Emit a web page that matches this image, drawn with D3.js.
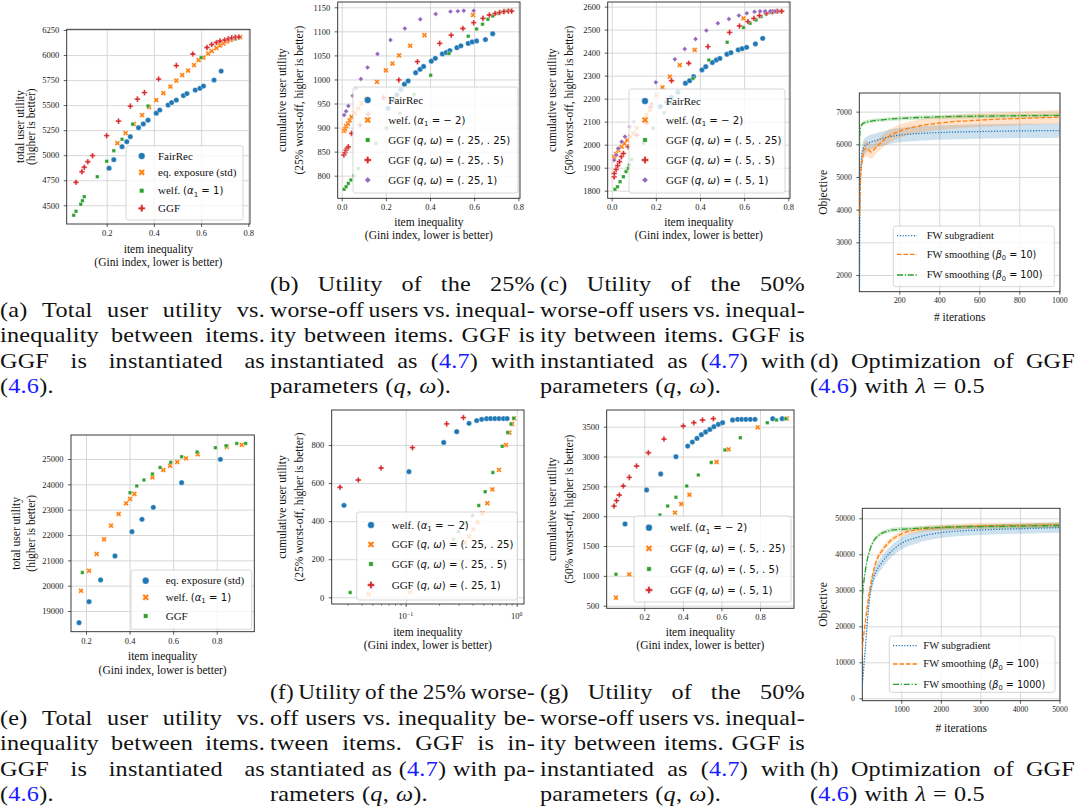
<!DOCTYPE html>
<html>
<head>
<meta charset="utf-8">
<script src="https://cdn.jsdelivr.net/npm/d3@7"></script>
<style>
  body { margin: 0; background: #fff; }
  svg { display: block; }
</style>
</head>
<body>
<svg id="fig" width="1077" height="809"></svg>
<script>
// ---------- data ----------
// (a) total utility vs item inequality
var aFairRec = [[0.21,4870],[0.23,4955],[0.265,5085],[0.285,5135],[0.30,5185],[0.335,5275],[0.355,5312],[0.375,5350],[0.41,5420],[0.425,5450],[0.46,5500],[0.475,5525],[0.495,5550],[0.525,5595],[0.54,5615],[0.575,5650],[0.595,5668],[0.61,5690],[0.655,5750],[0.685,5840]];
var aEqExp = [[0.245,5120],[0.28,5220],[0.315,5310],[0.35,5400],[0.38,5480],[0.41,5550],[0.44,5620],[0.47,5685],[0.495,5745],[0.52,5800],[0.545,5845],[0.57,5900],[0.59,5950],[0.61,5975],[0.63,6015],[0.645,6040],[0.665,6070],[0.68,6095],[0.695,6115],[0.71,6135],[0.725,6150],[0.74,6165],[0.755,6175],[0.765,6178]];
var aWelf = [[0.06,4400],[0.07,4440],[0.09,4510],[0.097,4545],[0.105,4585],[0.16,4785],[0.20,4940],[0.23,5045],[0.265,5160],[0.31,5310],[0.375,5490],[0.60,5975],[0.745,6160]];
var aGGF = [[0.07,4730],[0.095,4835],[0.105,4880],[0.12,4935],[0.14,4995],[0.20,5195],[0.25,5340],[0.30,5490],[0.33,5560],[0.36,5625],[0.42,5760],[0.495,5895],[0.565,6010],[0.625,6075],[0.645,6105],[0.665,6125],[0.68,6140],[0.70,6150],[0.715,6162],[0.73,6172],[0.745,6178],[0.76,6180]];
var aXTicks = [0.2,0.4,0.6,0.8];
var aYTicks = [4500,4750,5000,5250,5500,5750,6000,6250];

// (b) 25% worst-off utility
var bFairRec = [[0.21,940],[0.235,957],[0.25,968],[0.268,979],[0.284,990],[0.301,997],[0.335,1014],[0.355,1021],[0.371,1027],[0.406,1038],[0.424,1044],[0.456,1053],[0.474,1056],[0.49,1060],[0.522,1066],[0.54,1070],[0.573,1075],[0.591,1078],[0.611,1080],[0.651,1083],[0.684,1095]];
var bWelf = [[0.01,893],[0.015,897],[0.02,903],[0.028,908],[0.036,915],[0.045,922],[0.06,930],[0.075,940],[0.09,950],[0.11,962],[0.16,995],[0.20,1019],[0.23,1033],[0.26,1050],[0.31,1070],[0.375,1092],[0.595,1134]];
var bGGF25 = [[0.011,772],[0.02,777],[0.03,784],[0.042,791],[0.055,800],[0.075,815],[0.155,867],[0.203,899],[0.263,930],[0.328,969],[0.403,1009],[0.486,1054],[0.573,1090],[0.611,1105],[0.638,1115],[0.662,1125],[0.684,1132],[0.705,1137],[0.725,1140],[0.745,1142],[0.765,1143]];
var bGGF50 = [[0.01,843],[0.015,848],[0.02,853],[0.025,857],[0.03,860],[0.045,888],[0.083,905],[0.12,928],[0.19,962],[0.259,999],[0.343,1037],[0.444,1075],[0.496,1092],[0.549,1106],[0.598,1118],[0.64,1127],[0.669,1134],[0.695,1137],[0.715,1139],[0.735,1141],[0.755,1142],[0.77,1142]];
var bGGF100 = [[0.011,926],[0.02,934],[0.03,945],[0.05,966],[0.065,981],[0.087,1001],[0.117,1025],[0.162,1053],[0.221,1082],[0.286,1106],[0.356,1125],[0.426,1136],[0.493,1141],[0.526,1142],[0.553,1143],[0.598,1143]];
var bcXTicks = [0,0.2,0.4,0.6,0.8];
var bYTicks = [800,850,900,950,1000,1050,1100,1150];

// (c) 50% worst-off utility
var cFairRec = [[0.22,2165],[0.25,2185],[0.27,2205],[0.30,2228],[0.334,2267],[0.353,2278],[0.371,2296],[0.409,2325],[0.426,2339],[0.456,2357],[0.474,2368],[0.49,2375],[0.522,2393],[0.54,2400],[0.573,2412],[0.591,2417],[0.611,2423],[0.651,2438],[0.684,2462]];
var cWelf = [[0.011,1948],[0.02,1960],[0.03,1977],[0.045,1991],[0.058,2005],[0.07,2020],[0.085,2035],[0.098,2049],[0.113,2071],[0.158,2129],[0.173,2151],[0.203,2216],[0.23,2249],[0.263,2296],[0.308,2346],[0.376,2412],[0.597,2549]];
var cGGF25 = [[0.015,1806],[0.026,1817],[0.038,1839],[0.053,1861],[0.065,1883],[0.075,1897],[0.08,1912],[0.09,1936],[0.143,2006],[0.188,2071],[0.238,2139],[0.268,2180],[0.368,2288],[0.44,2368],[0.523,2445],[0.597,2509],[0.627,2528],[0.654,2542],[0.677,2557],[0.70,2568],[0.72,2574],[0.74,2578],[0.76,2580]];
var cGGF50 = [[0.011,1860],[0.012,1875],[0.02,1893],[0.027,1909],[0.035,1926],[0.044,1948],[0.053,1962],[0.075,1991],[0.113,2042],[0.158,2093],[0.177,2165],[0.271,2278],[0.349,2354],[0.436,2426],[0.534,2488],[0.579,2516],[0.617,2535],[0.644,2549],[0.669,2561],[0.70,2571],[0.729,2578],[0.75,2580],[0.77,2580]];
var cGGF100 = [[0.011,1933],[0.02,1955],[0.03,1984],[0.045,2013],[0.06,2035],[0.083,2078],[0.10,2100],[0.18,2177],[0.20,2271],[0.286,2371],[0.331,2416],[0.38,2459],[0.429,2496],[0.481,2528],[0.531,2546],[0.576,2561],[0.612,2571],[0.647,2578],[0.672,2580],[0.695,2580],[0.718,2580],[0.74,2580]];
var cYTicks = [1800,1900,2000,2100,2200,2300,2400,2500,2600];

// (d) optimization, 1000 iterations
var dIters = [1,3,6,10,15,25,40,60,80,100,150,200,300,400,600,800,1000];
var dSubgrad = [1500,3500,5000,5500,5750,5920,6010,6070,6110,6150,6230,6280,6330,6360,6390,6410,6420];
var dSubgradSd = [0,200,250,250,250,250,240,230,220,220,220,220,220,220,220,220,220];
var dSmooth10 = [3800,4000,4900,5300,5500,5850,5860,5760,5880,6000,6250,6400,6560,6650,6740,6790,6830];
var dSmooth10Sd = [0,200,250,250,250,250,230,200,190,190,200,200,200,210,210,210,210];
var dSmooth100 = [5900,6300,6500,6580,6620,6660,6690,6710,6730,6740,6770,6790,6820,6840,6860,6875,6885];
var dSmooth100Sd = [0,60,60,60,60,60,60,60,60,60,60,60,60,60,60,60,60];
var dXTicks = [200,400,600,800,1000];
var dYTicks = [2000,3000,4000,5000,6000,7000];

// (e) total utility, second dataset
var eEqExp = [[0.168,18540],[0.214,19370],[0.267,20225],[0.333,21170],[0.411,22130],[0.457,22620],[0.509,23090],[0.639,24065],[0.817,24985]];
var eWelf = [[0.177,19800],[0.214,20590],[0.249,21250],[0.283,21830],[0.315,22370],[0.35,22830],[0.384,23250],[0.402,23420],[0.422,23620],[0.505,24275],[0.555,24565],[0.586,24735],[0.619,24880],[0.659,25025],[0.713,25185],[0.846,25485],[0.915,25555]];
var eGGF = [[0.183,20515],[0.402,23670],[0.433,23935],[0.466,24170],[0.505,24410],[0.54,24660],[0.589,24870],[0.639,25090],[0.71,25275],[0.794,25445],[0.843,25525],[0.892,25615],[0.933,25615]];
var egXTicks = [0.2,0.4,0.6,0.8];
var eYTicks = [19000,20000,21000,22000,23000,24000,25000];

// (f) 25% worst-off, log x
var fWelf = [[0.0278,483],[0.107,660],[0.22,813],[0.288,870],[0.372,914],[0.436,928],[0.484,935],[0.536,938],[0.583,939],[0.636,939],[0.693,939],[0.76,939],[0.82,939]];
var fGGF25 = [[0.0464,16],[0.109,28],[0.341,287],[0.372,319],[0.407,357],[0.445,394],[0.49,441],[0.544,494],[0.604,567],[0.693,669],[0.80,800],[0.86,865],[0.91,910],[0.95,940]];
var fGGF50 = [[0.0316,25],[0.27,305],[0.30,345],[0.345,390],[0.40,430],[0.455,482],[0.52,555],[0.61,655],[0.74,793],[0.83,865],[0.89,910],[0.94,940]];
var fGGF100 = [[0.0256,578],[0.0374,616],[0.06,679],[0.115,786],[0.234,911],[0.331,944]];
var fXTicks = [0.1,1];
var fXMinor = [0.03,0.04,0.05,0.06,0.07,0.08,0.09,0.2,0.3,0.4,0.5,0.6,0.7,0.8,0.9];
var fYTicks = [0,200,400,600,800];

// (g) 50% worst-off, second dataset
var gWelf = [[0.10,1869],[0.212,2439],[0.285,2707],[0.364,2997],[0.425,3176],[0.449,3243],[0.473,3304],[0.496,3366],[0.518,3411],[0.54,3455],[0.561,3500],[0.584,3539],[0.606,3567],[0.658,3612],[0.684,3623],[0.705,3623],[0.727,3623],[0.75,3623],[0.774,3623],[0.866,3634],[0.915,3634]];
var gGGF25 = [[0.053,634],[0.122,1025],[0.359,2059],[0.392,2204],[0.434,2360],[0.575,2908],[0.637,3120],[0.788,3489],[0.939,3640]];
var gGGF50 = [[0.053,1025],[0.281,2020],[0.321,2170],[0.364,2316],[0.42,2506],[0.48,2690],[0.547,2902],[0.618,3109],[0.698,3316],[0.838,3567],[0.886,3612],[0.934,3634]];
var gGGF100 = [[0.043,2170],[0.056,2260],[0.07,2355],[0.091,2506],[0.122,2651],[0.16,2841],[0.221,3064],[0.302,3293],[0.402,3511],[0.457,3567],[0.502,3612],[0.558,3634]];
var gYTicks = [500,1000,1500,2000,2500,3000,3500];

// (h) optimization, 5000 iterations
var hIters = [0,25,50,100,150,200,300,400,500,700,1000,1400,2000,3000,4000,5000];
var hSubgrad = [3000,5000,8500,15000,22500,28000,33500,36000,37600,40300,43000,44700,46000,46760,47100,47400];
var hSubgradSd = [0,500,800,1200,1500,1600,1700,1700,1700,1700,1700,1600,1500,1400,1400,1400];
var hSmooth100 = [12000,15000,17500,22000,26300,30000,35500,39000,40800,43500,45600,46800,47400,47900,48050,48200];
var hSmooth100Sd = [0,800,1000,1200,1200,1100,1000,900,900,800,800,800,800,800,800,800];
var hSmooth1000 = [20000,29000,32000,36000,39000,41000,43700,45000,45800,46600,46950,47200,47500,47700,47850,48000];
var hSmooth1000Sd = [0,800,900,900,800,700,600,600,600,600,600,600,600,600,600,600];
var hXTicks = [1000,2000,3000,4000,5000];
var hYTicks = [0,10000,20000,30000,40000,50000];

// colours (matplotlib tab10)
var blue = "#1f77b4", orange = "#ff7f0e", green = "#2ca02c", red = "#d62728", purple = "#9467bd";

// ---------- drawing ----------
var svg = d3.select("#fig");
svg.append("rect").attr("width", 1077).attr("height", 809).attr("fill", "#fff");

var SERIF = "'Liberation Serif', 'Times New Roman', serif";
var SANS = "'DejaVu Sans', sans-serif";
var clipCount = 0;

function markerPath(kind, d) {
  if (kind === "o") return d3.symbol(d3.symbolCircle, Math.PI * d * d / 4)();
  if (kind === "X") return d3.symbol(d3.symbolCross, d * d * 1.15 * 5 / 9)();
  if (kind === "P") return d3.symbol(d3.symbolCross, d * d * 1.1 * 5 / 9)();
  if (kind === "s") return d3.symbol(d3.symbolSquare, (d * 0.66) * (d * 0.66))();
  return d3.symbol(d3.symbolSquare, (d * 0.66) * (d * 0.66))(); // diamond = rotated square
}
function markerRot(kind) { return (kind === "X" || kind === "D") ? " rotate(45)" : ""; }

// mixed serif + mathtext label
function rich(sel, segs, fs) {
  var shifted = false;
  segs.forEach(function(s) {
    var ts = sel.append("tspan").text(s[0]);
    if (s[1] === "r") ts.attr("font-family", SERIF).attr("font-size", fs);
    else ts.attr("font-family", SANS).attr("font-size", fs * 0.92);
    if (s[1] === "i") ts.attr("font-style", "italic");
    if (s[1] === "s") { ts.attr("font-size", fs * 0.64).attr("dy", fs * 0.22); shifted = true; }
    else if (shifted) { ts.attr("dy", -fs * 0.22); shifted = false; }
  });
}

function drawAxes(g, x, y, p) {
  var l = p.box[0], t = p.box[1], r = p.box[2], b = p.box[3];
  // grid
  g.append("g").attr("transform", "translate(0," + b + ")")
    .call(d3.axisBottom(x).tickValues(p.xticks).tickSize(-(b - t)).tickFormat(""))
    .call(function(a) { a.select(".domain").remove(); a.selectAll("line").attr("stroke", "#d4d4d4").attr("stroke-width", 0.9); });
  g.append("g").attr("transform", "translate(" + l + ",0)")
    .call(d3.axisLeft(y).tickValues(p.yticks).tickSize(-(r - l)).tickFormat(""))
    .call(function(a) { a.select(".domain").remove(); a.selectAll("line").attr("stroke", "#d4d4d4").attr("stroke-width", 0.9); });
  // ticks + labels
  var xa = d3.axisBottom(x).tickValues(p.xticks).tickSize(3).tickPadding(3)
    .tickFormat(p.log ? function() { return ""; } : (p.xfmt || d3.format(".1f")));
  g.append("g").attr("transform", "translate(0," + b + ")").call(xa)
    .call(function(a) {
      a.select(".domain").remove();
      a.selectAll("line").attr("stroke", "#333").attr("stroke-width", 0.8);
      a.selectAll("text").attr("font-family", SERIF).attr("font-size", p.tfs).attr("fill", "#222");
    });
  if (p.log) {
    g.append("g").attr("transform", "translate(0," + b + ")")
      .call(d3.axisBottom(x).tickValues(p.minor).tickSize(1.8).tickFormat(""))
      .call(function(a) { a.select(".domain").remove(); a.selectAll("line").attr("stroke", "#333").attr("stroke-width", 0.6); });
    p.xticks.forEach(function(v) {
      var tx = g.append("text").attr("x", x(v)).attr("y", b + 15).attr("text-anchor", "middle")
        .attr("font-family", SERIF).attr("font-size", p.tfs).attr("fill", "#222");
      tx.append("tspan").text("10");
      tx.append("tspan").attr("dy", -3.5).attr("font-size", p.tfs * 0.7).text(Math.round(Math.log10(v)) === 0 ? "0" : "\u22121");
    });
  }
  var ya = d3.axisLeft(y).tickValues(p.yticks).tickSize(3).tickPadding(4.5).tickFormat(d3.format("d"));
  g.append("g").attr("transform", "translate(" + l + ",0)").call(ya)
    .call(function(a) {
      a.select(".domain").remove();
      a.selectAll("line").attr("stroke", "#333").attr("stroke-width", 0.8);
      a.selectAll("text").attr("font-family", SERIF).attr("font-size", p.tfs).attr("fill", "#222");
    });
  // frame
  g.append("rect").attr("x", l).attr("y", t).attr("width", r - l).attr("height", b - t)
    .attr("fill", "none").attr("stroke", "#262626").attr("stroke-width", 0.9);
  // axis labels
  p.ylab.forEach(function(s, i) {
    g.append("text").attr("transform", "translate(" + p.ylabX[i] + "," + ((t + b) / 2) + ") rotate(-90)")
      .attr("text-anchor", "middle").attr("dominant-baseline", "central")
      .attr("font-family", SERIF).attr("font-size", p.lfs).attr("fill", "#111").text(s);
  });
  p.xlab.forEach(function(s, i) {
    g.append("text").attr("x", (l + r) / 2).attr("y", p.xlabY[i])
      .attr("text-anchor", "middle").attr("dominant-baseline", "central")
      .attr("font-family", SERIF).attr("font-size", p.lfs).attr("fill", "#111").text(s);
  });
}

function legendBox(g, box) {
  g.append("rect").attr("x", box[0]).attr("y", box[1]).attr("width", box[2] - box[0]).attr("height", box[3] - box[1])
    .attr("rx", 2.5).attr("fill", "#fff").attr("fill-opacity", 0.8)
    .attr("stroke", "#cccccc").attr("stroke-width", 0.8);
}

function scatterPanel(p) {
  var g = svg.append("g");
  var x = (p.log ? d3.scaleLog() : d3.scaleLinear()).domain(p.xlim).range([p.box[0], p.box[2]]);
  var y = d3.scaleLinear().domain(p.ylim).range([p.box[3], p.box[1]]);
  drawAxes(g, x, y, p);
  var cid = "clip" + (clipCount++);
  g.append("clipPath").attr("id", cid).append("rect")
    .attr("x", p.box[0]).attr("y", p.box[1]).attr("width", p.box[2] - p.box[0]).attr("height", p.box[3] - p.box[1]);
  var pts = g.append("g").attr("clip-path", "url(#" + cid + ")");
  p.series.forEach(function(s) {
    pts.append("g").selectAll("path").data(s.data).join("path")
      .attr("d", markerPath(s.marker, p.ms))
      .attr("transform", function(d) { return "translate(" + x(d[0]) + "," + y(d[1]) + ")" + markerRot(s.marker); })
      .attr("fill", s.color).attr("stroke", "#fff").attr("stroke-width", 0.35);
  });
  legendBox(g, p.leg.box);
  p.series.forEach(function(s, i) {
    var yy = p.leg.ys[i];
    g.append("path").attr("d", markerPath(s.marker, p.ms * 1.25))
      .attr("transform", "translate(" + p.leg.mx + "," + yy + ")" + markerRot(s.marker))
      .attr("fill", s.color).attr("stroke", "#fff").attr("stroke-width", 0.35);
    var tx = g.append("text").attr("x", p.leg.tx).attr("y", yy + p.leg.fs * 0.33).attr("fill", "#111");
    rich(tx, s.label, p.leg.fs);
  });
}

function linePanel(p) {
  var g = svg.append("g");
  var x = d3.scaleLinear().domain(p.xlim).range([p.box[0], p.box[2]]);
  var y = d3.scaleLinear().domain(p.ylim).range([p.box[3], p.box[1]]);
  drawAxes(g, x, y, p);
  var cid = "clip" + (clipCount++);
  g.append("clipPath").attr("id", cid).append("rect")
    .attr("x", p.box[0]).attr("y", p.box[1]).attr("width", p.box[2] - p.box[0]).attr("height", p.box[3] - p.box[1]);
  var cg = g.append("g").attr("clip-path", "url(#" + cid + ")");
  var idx = d3.range(p.iters.length);
  p.series.forEach(function(s) {
    var area = d3.area().curve(d3.curveMonotoneX)
      .x(function(i) { return x(p.iters[i]); })
      .y0(function(i) { return y(s.mean[i] - s.sd[i]); })
      .y1(function(i) { return y(s.mean[i] + s.sd[i]); });
    cg.append("path").attr("d", area(idx)).attr("fill", s.color).attr("fill-opacity", 0.22);
  });
  p.series.forEach(function(s) {
    var line = d3.line().curve(d3.curveMonotoneX)
      .x(function(i) { return x(p.iters[i]); })
      .y(function(i) { return y(s.mean[i]); });
    cg.append("path").attr("d", line(idx)).attr("fill", "none").attr("stroke", s.color)
      .attr("stroke-width", 1.3).attr("stroke-dasharray", s.dash);
  });
  legendBox(g, p.leg.box);
  p.series.forEach(function(s, i) {
    var yy = p.leg.ys[i];
    g.append("line").attr("x1", p.leg.lx[0]).attr("x2", p.leg.lx[1]).attr("y1", yy).attr("y2", yy)
      .attr("stroke", s.color).attr("stroke-width", 1.3).attr("stroke-dasharray", s.dash);
    var tx = g.append("text").attr("x", p.leg.tx).attr("y", yy + p.leg.fs * 0.33).attr("fill", "#111");
    rich(tx, s.label, p.leg.fs);
  });
}

// legend labels
var L_FAIR = [["FairRec", "r"]];
var L_EQ = [["eq. exposure (std)", "r"]];
var L_W1 = [["welf. ", "r"], ["(", "m"], ["\u03b1", "i"], ["1", "s"], [" = 1)", "m"]];
var L_W2 = [["welf. ", "r"], ["(", "m"], ["\u03b1", "i"], ["1", "s"], [" = \u2212 2)", "m"]];
var L_GGF = [["GGF", "r"]];
function lggf(a, b) {
  return [["GGF ", "r"], ["(", "m"], ["q", "i"], [", ", "m"], ["\u03c9", "i"], [") = (" + a + ", " + b + ")", "m"]];
}
var TFS = 8.5, LFS = 11.5, GFS = 11;

// (a)
scatterPanel({
  box: [66.7, 29.3, 250, 224], xlim: [0.0305, 0.8072], ylim: [4313, 6257],
  xticks: aXTicks, yticks: aYTicks, tfs: TFS, lfs: LFS, ms: 5.3,
  ylab: ["total user utility", "(higher is better)"], ylabX: [19.5, 31],
  xlab: ["item inequality", "(Gini index, lower is better)"], xlabY: [249.3, 262],
  series: [
    { data: aFairRec, marker: "o", color: blue, label: L_FAIR },
    { data: aEqExp, marker: "X", color: orange, label: L_EQ },
    { data: aWelf, marker: "s", color: green, label: L_W1 },
    { data: aGGF, marker: "P", color: red, label: L_GGF }
  ],
  leg: { box: [126, 145.7, 243, 220], ys: [156, 172.3, 190.7, 208.3], mx: 141.7, tx: 158, fs: GFS }
});

// (b)
scatterPanel({
  box: [337.7, 2, 520, 198.3], xlim: [-0.0181, 0.8077], ylim: [753, 1161],
  xticks: bcXTicks, yticks: bYTicks, tfs: TFS, lfs: LFS, ms: 5.3,
  ylab: ["cumulative user utility", "(25% worst-off, higher is better)"], ylabX: [282, 299],
  xlab: ["item inequality", "(Gini index, lower is better)"], xlabY: [221.7, 235],
  series: [
    { data: bFairRec, marker: "o", color: blue, label: L_FAIR },
    { data: bWelf, marker: "X", color: orange, label: L_W2 },
    { data: bGGF25, marker: "s", color: green, label: lggf(". 25", ". 25") },
    { data: bGGF50, marker: "P", color: red, label: lggf(". 25", ". 5") },
    { data: bGGF100, marker: "D", color: purple, label: lggf(". 25", "1") }
  ],
  leg: { box: [353, 87, 518, 193], ys: [100, 120, 140, 160, 180], mx: 367.7, tx: 388.3, fs: GFS }
});

// (c)
scatterPanel({
  box: [607.7, 2, 790, 198.3], xlim: [-0.0181, 0.8077], ylim: [1767, 2620],
  xticks: bcXTicks, yticks: cYTicks, tfs: TFS, lfs: LFS, ms: 5.3,
  ylab: ["cumulative user utility", "(50% worst-off, higher is better)"], ylabX: [552, 569],
  xlab: ["item inequality", "(Gini index, lower is better)"], xlabY: [221.7, 235],
  series: [
    { data: cFairRec, marker: "o", color: blue, label: L_FAIR },
    { data: cWelf, marker: "X", color: orange, label: L_W2 },
    { data: cGGF25, marker: "s", color: green, label: lggf(". 5", ". 25") },
    { data: cGGF50, marker: "P", color: red, label: lggf(". 5", ". 5") },
    { data: cGGF100, marker: "D", color: purple, label: lggf(". 5", "1") }
  ],
  leg: { box: [629, 89, 785, 193], ys: [101, 120, 140, 160, 180], mx: 645, tx: 666, fs: GFS }
});

// (d)
linePanel({
  box: [859.3, 93, 1060, 291.7], xlim: [0, 1003.5], ylim: [1489, 7570],
  xticks: dXTicks, yticks: dYTicks, xfmt: d3.format("d"), tfs: 7.8, lfs: LFS,
  ylab: ["Objective"], ylabX: [823.3],
  xlab: ["# iterations"], xlabY: [316.7],
  iters: dIters,
  series: [
    { mean: dSubgrad, sd: dSubgradSd, color: blue, dash: "1.2,1.6", label: [["FW subgradient", "r"]] },
    { mean: dSmooth10, sd: dSmooth10Sd, color: orange, dash: "4.5,2", label: [["FW smoothing ", "r"], ["(", "m"], ["\u03b2", "i"], ["0", "s"], [" = 10)", "m"]] },
    { mean: dSmooth100, sd: dSmooth100Sd, color: green, dash: "6,1.8,1.2,1.8", label: [["FW smoothing ", "r"], ["(", "m"], ["\u03b2", "i"], ["0", "s"], [" = 100)", "m"]] }
  ],
  leg: { box: [893.3, 226, 1054.3, 286.7], ys: [235.7, 254.3, 275], lx: [897, 917], tx: 926.7, fs: 10.5 }
});

// (e)
scatterPanel({
  box: [71, 435, 254.3, 631.7], xlim: [0.1311, 0.9726], ylim: [18183, 25947],
  xticks: egXTicks, yticks: eYTicks, tfs: TFS, lfs: LFS, ms: 5.3,
  ylab: ["total user utility", "(higher is better)"], ylabX: [16, 31],
  xlab: ["item inequality", "(Gini index, lower is better)"], xlabY: [655.7, 670],
  series: [
    { data: eEqExp, marker: "o", color: blue, label: L_EQ },
    { data: eWelf, marker: "X", color: orange, label: L_W1 },
    { data: eGGF, marker: "s", color: green, label: L_GGF }
  ],
  leg: { box: [131, 570, 251.7, 629.3], ys: [580.7, 597.3, 616], mx: 145.7, tx: 165.7, fs: GFS }
});

// (f)
scatterPanel({
  box: [331.7, 410, 524, 604], xlim: [0.02154, 1.1637], ylim: [-35.2, 983.8], log: true,
  xticks: fXTicks, minor: fXMinor, yticks: fYTicks, tfs: TFS, lfs: LFS, ms: 5.3,
  ylab: ["cumulative user utility", "(25% worst-off, higher is better)"], ylabX: [282, 299],
  xlab: ["item inequality", "(Gini index, lower is better)"], xlabY: [631.7, 645],
  series: [
    { data: fWelf, marker: "o", color: blue, label: L_W2 },
    { data: fGGF25, marker: "X", color: orange, label: lggf(". 25", ". 25") },
    { data: fGGF50, marker: "s", color: green, label: lggf(". 25", ". 5") },
    { data: fGGF100, marker: "P", color: red, label: lggf(". 25", "1") }
  ],
  leg: { box: [356.7, 512, 517.3, 600], ys: [525, 544.5, 564, 585], mx: 371, tx: 391.7, fs: GFS }
});

// (g)
scatterPanel({
  box: [606.7, 410, 794, 608.3], xlim: [0.005, 0.9763], ylim: [456.4, 3779.9],
  xticks: egXTicks, yticks: gYTicks, tfs: TFS, lfs: LFS, ms: 5.3,
  ylab: ["cumulative user utility", "(50% worst-off, higher is better)"], ylabX: [552, 569],
  xlab: ["item inequality", "(Gini index, lower is better)"], xlabY: [631.7, 645],
  series: [
    { data: gWelf, marker: "o", color: blue, label: L_W2 },
    { data: gGGF25, marker: "X", color: orange, label: lggf(". 5", ". 25") },
    { data: gGGF50, marker: "s", color: green, label: lggf(". 5", ". 5") },
    { data: gGGF100, marker: "P", color: red, label: lggf(". 5", "1") }
  ],
  leg: { box: [634, 516, 791, 602], ys: [527.7, 548.3, 569, 590], mx: 649, tx: 670, fs: GFS }
});

// (h)
linePanel({
  box: [862.3, 508.3, 1060, 700.7], xlim: [14, 5013], ylim: [-667, 52778],
  xticks: hXTicks, yticks: hYTicks, xfmt: d3.format("d"), tfs: 7.8, lfs: LFS,
  ylab: ["Objective"], ylabX: [823.3],
  xlab: ["# iterations"], xlabY: [728],
  iters: hIters,
  series: [
    { mean: hSubgrad, sd: hSubgradSd, color: blue, dash: "1.2,1.6", label: [["FW subgradient", "r"]] },
    { mean: hSmooth100, sd: hSmooth100Sd, color: orange, dash: "4.5,2", label: [["FW smoothing ", "r"], ["(", "m"], ["\u03b2", "i"], ["0", "s"], [" = 100)", "m"]] },
    { mean: hSmooth1000, sd: hSmooth1000Sd, color: green, dash: "6,1.8,1.2,1.8", label: [["FW smoothing ", "r"], ["(", "m"], ["\u03b2", "i"], ["0", "s"], [" = 1000)", "m"]] }
  ],
  leg: { box: [889.3, 636, 1055, 692.3], ys: [645.7, 664, 684.3], lx: [893, 917], tx: 923.3, fs: 10.5 }
});

// ---------- captions (justified like LaTeX) ----------
var row1 = [284, 309.5, 335, 360.5, 386];
var row2 = [692, 717.5, 743, 768.5, 794];
var CAP_FS = 22, CAP_SX = 1.1;

function addWord(t, w) {
  w.split(/(<[bi]>[^<]*<\/[bi]>)/).filter(Boolean).forEach(function(seg) {
    var ts = t.append("tspan");
    if (seg.indexOf("<b>") === 0) ts.attr("fill", "#1a1aff").text(seg.slice(3, -4));
    else if (seg.indexOf("<i>") === 0) ts.attr("font-style", "italic").text(seg.slice(3, -4));
    else ts.text(seg);
  });
}

function caption(lines, x0, x1, rowY, start) {
  lines.forEach(function(ln, i) {
    var y = rowY[start + i] + 7;
    var words = ln.split(" ");
    var last = i === lines.length - 1;
    var els = words.map(function(w) {
      var t = svg.append("text").attr("font-family", SERIF)
        .attr("font-size", CAP_FS).attr("letter-spacing", 0.2).attr("fill", "#111");
      addWord(t, w);
      return t;
    });
    var raw = els.map(function(t) { return t.node().getComputedTextLength(); });
    // squeeze a tight line a little so that at least 4.5px remain between words
    var sx = CAP_SX;
    if (!last && words.length > 1) sx = Math.min(CAP_SX, (x1 - x0 - 4.5 * (words.length - 1)) / d3.sum(raw));
    var widths = raw.map(function(w) { return w * sx; });
    var gap = last || words.length < 2 ? 7 : (x1 - x0 - d3.sum(widths)) / (words.length - 1);
    var cx = x0;
    els.forEach(function(t, k) {
      t.attr("transform", "translate(" + cx + "," + y + ") scale(" + sx + ",1)");
      cx += widths[k] + gap;
    });
  });
}

caption(["(a) Total user utility vs.", "inequality between items.", "GGF is instantiated as", "(<b>4.6</b>)."], 0, 265, row1, 1);
caption(["(b) Utility of the 25%", "worse-off users vs. inequal-", "ity between items. GGF is", "instantiated as (<b>4.7</b>) with", "parameters (<i>q</i>, <i>\u03c9</i>)."], 270, 535, row1, 0);
caption(["(c) Utility of the 50%", "worse-off users vs. inequal-", "ity between items. GGF is", "instantiated as (<b>4.7</b>) with", "parameters (<i>q</i>, <i>\u03c9</i>)."], 540, 805, row1, 0);
caption(["(d) Optimization of GGF", "(<b>4.6</b>) with <i>\u03bb</i> = 0.5"], 810, 1075, row1, 3);

caption(["(e) Total user utility vs.", "inequality between items.", "GGF is instantiated as", "(<b>4.6</b>)."], 0, 265, row2, 1);
caption(["(f) Utility of the 25% worse-", "off users vs. inequality be-", "tween items. GGF is in-", "stantiated as (<b>4.7</b>) with pa-", "rameters (<i>q</i>, <i>\u03c9</i>)."], 270, 535, row2, 0);
caption(["(g) Utility of the 50%", "worse-off users vs. inequal-", "ity between items. GGF is", "instantiated as (<b>4.7</b>) with", "parameters (<i>q</i>, <i>\u03c9</i>)."], 540, 805, row2, 0);
caption(["(h) Optimization of GGF", "(<b>4.6</b>) with <i>\u03bb</i> = 0.5"], 810, 1075, row2, 3);
</script>
</body>
</html>
